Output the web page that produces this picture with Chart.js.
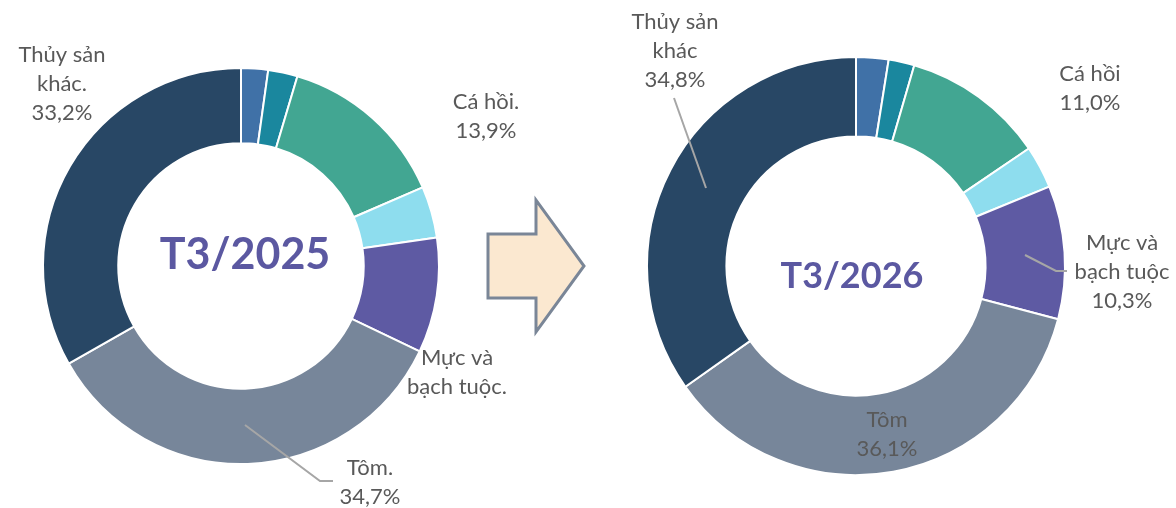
<!DOCTYPE html>
<html>
<head>
<meta charset="utf-8">
<script src="https://cdn.jsdelivr.net/npm/chart.js@4.4.1/dist/chart.umd.min.js"></script>
<style>
    body { margin: 0; background: #fff; }
    #wrap { position: relative; width: 1176px; height: 508px; overflow: hidden; }
    #wrap canvas { position: absolute; top: 0; }
    #arrow { position: absolute; left: 0; top: 0; }
</style>
</head>
<body>
<div id="wrap">
    <canvas id="chart2025" width="620" height="508" style="left:0"></canvas>
    <canvas id="chart2026" width="556" height="508" style="left:620px"></canvas>
    <svg id="arrow" width="1176" height="508">
        <polygon points="488,234 536,234 536,200 584,266 536,332 536,298 488,298"
                 fill="#FBE8D0" stroke="#7A8697" stroke-width="3"/>
    </svg>
</div>
<script>
const categories = ["Cá ngừ", "Cua, ghẹ", "Cá hồi", "Nhuyễn thể có vỏ", "Mực và bạch tuộc", "Tôm", "Thủy sản khác"];
const share2025 = [2.2, 2.4, 13.9, 4.2, 9.4, 34.7, 33.2];
const share2026 = [2.5, 2.0, 11.0, 3.3, 10.3, 36.1, 34.8];

const colours = [
    "#4071A7",
    "#1A879E",
    "#42A692",
    "#8EDDEE",
    "#5E5AA3",
    "#77869A",
    "#284765",
];

const pct = v => v.toFixed(1).replace('.', ',') + '%';

// label text, [dx, dy] of the text block from the ring centre, optional leader line
const labels2025 = [
    null,
    null,
    { lines: ["Cá hồi.", pct(share2025[2])], at: [245, -150] },
    null,
    { lines: ["Mực và", "bạch tuộc."], at: [216, 106] },
    { lines: ["Tôm.", pct(share2025[5])], at: [129, 216], leader: [[4, 159], [79, 215], [92, 215]] },
    { lines: ["Thủy sản", "khác.", pct(share2025[6])], at: [-179, -182] },
];
const labels2026 = [
    null,
    null,
    { lines: ["Cá hồi", pct(share2026[2])], at: [234, -178] },
    null,
    { lines: ["Mực và", "bạch tuộc", pct(share2026[4])], at: [266, 6], leader: [[169, -11], [200, 5], [211, 5]] },
    { lines: ["Tôm", pct(share2026[5])], at: [31, 168] },
    { lines: ["Thủy sản", "khác", pct(share2026[6])], at: [-181, -215], leader: [[-182, -168], [-150, -78]] },
];

const labelPlugin = {
    id: 'sliceLabels',
    afterDraw(chart, args, opts) {
        const ctx = chart.ctx;
        const arc = chart.getDatasetMeta(0).data[0];
        const cx = arc.x, cy = arc.y;
        ctx.save();
        // centre title
        ctx.fillStyle = '#5B58A1';
        ctx.font = 'bold ' + opts.titleSize + 'px Lato';
        ctx.textAlign = 'center';
        ctx.textBaseline = 'middle';
        ctx.fillText(opts.title, cx + opts.titleOffset[0], cy + opts.titleOffset[1]);

        ctx.font = '22px Lato';
        opts.items.forEach(item => {
            if (!item) return;
            if (item.leader) {
                ctx.strokeStyle = '#A6A6A6';
                ctx.lineWidth = 2;
                ctx.beginPath();
                item.leader.forEach((p, i) => {
                    if (i === 0) ctx.moveTo(cx + p[0], cy + p[1]);
                    else ctx.lineTo(cx + p[0], cy + p[1]);
                });
                ctx.stroke();
            }
            ctx.fillStyle = '#595959';
            const lh = 29;
            const top = cy + item.at[1] - (item.lines.length - 1) * lh / 2;
            item.lines.forEach((s, i) => {
                ctx.fillText(s, cx + item.at[0], top + i * lh);
            });
        });
        ctx.restore();
    }
};

function makeRing(id, values, items, title, titleSize, titleOffset, padding) {
    return new Chart(
        document.getElementById(id),
        {
            type: 'doughnut',
            data: {
                labels: categories,
                datasets: [
                    {
                        data: values,
                        backgroundColor: colours,
                        borderColor: '#ffffff',
                        borderWidth: 2,
                        hoverOffset: 0,
                    }
                ]
            },
            options: {
                responsive: false,
                animation: false,
                cutout: '62%',
                layout: { padding: padding },
                plugins: {
                    legend: { display: false },
                    tooltip: { enabled: false },
                    sliceLabels: { items: items, title: title, titleSize: titleSize, titleOffset: titleOffset },
                }
            },
            plugins: [labelPlugin]
        }
    )
}

makeRing('chart2025', share2025, labels2025, 'T3/2025', 43, [4, -11], { left: 42, top: 67, right: 180, bottom: 43 });
makeRing('chart2026', share2026, labels2026, 'T3/2026', 36, [-4, 10], { left: 26, top: 56, right: 110, bottom: 32 });
</script>
</body>
</html>
